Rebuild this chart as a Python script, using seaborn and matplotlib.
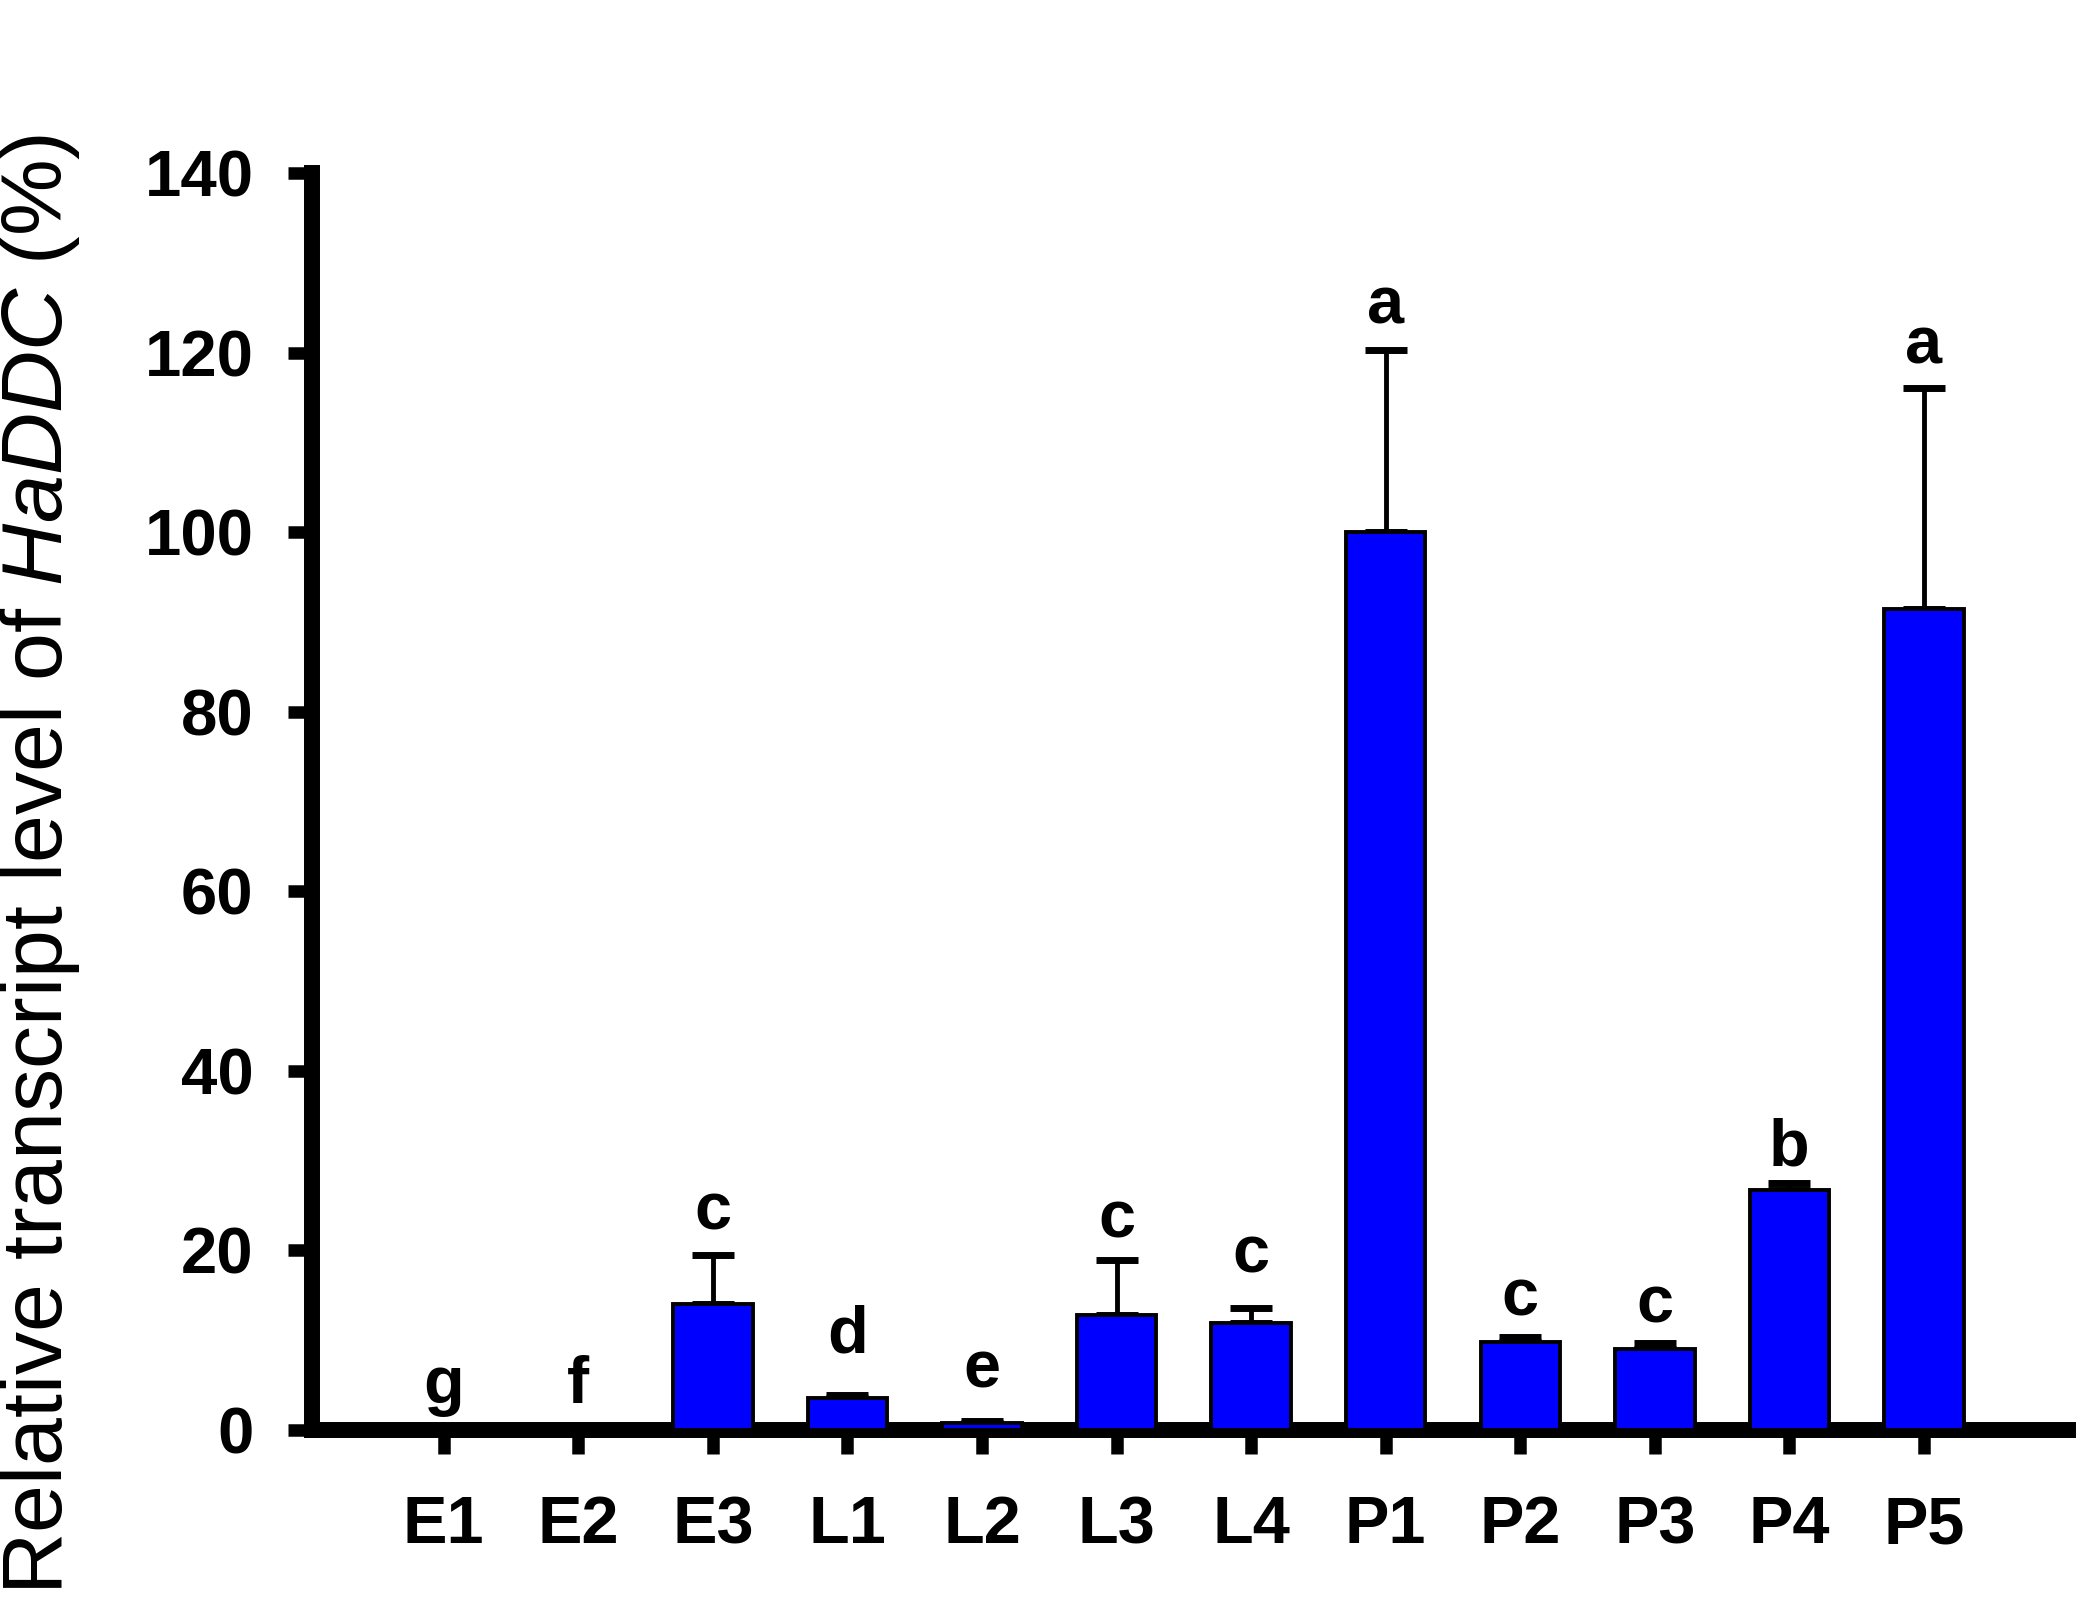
import numpy as np
import pandas as pd
import matplotlib
matplotlib.use('Agg')
import matplotlib.pyplot as plt
import seaborn as sns

# Developmental stages and relative transcript levels
stages = ['E1', 'E2', 'E3', 'L1', 'L2', 'L3', 'L4', 'P1', 'P2', 'P3', 'P4', 'P5']
means = [0.0, 0.0, 14.0, 3.6, 0.8, 12.8, 11.9, 100.0, 9.8, 9.0, 26.7, 91.5]
errors = [0.0, 0.0, 5.5, 0.3, 0.2, 6.1, 1.7, 20.3, 0.6, 0.7, 0.8, 24.6]
letters = ['g', 'f', 'c', 'd', 'e', 'c', 'c', 'a', 'c', 'c', 'b', 'a']
letter_y = [3.0, 3.0, 22.3, 8.6, 4.7, 21.5, 17.6, 123.3, 12.8, 12.0, 29.5, 118.8]
yticks = [0, 20, 40, 60, 80, 100, 120, 140]

sns.set_style('ticks')
plt.rcParams['font.family'] = ['Liberation Sans', 'DejaVu Sans']
plt.rcParams['mathtext.fontset'] = 'custom'
plt.rcParams['mathtext.rm'] = 'Liberation Sans'
plt.rcParams['mathtext.it'] = 'Liberation Sans:italic'
for key in ['text.color', 'axes.labelcolor', 'xtick.color', 'ytick.color',
            'axes.edgecolor']:
    plt.rcParams[key] = 'black'

df = pd.DataFrame({'stage': stages, 'level': means, 'err': errors})

fig = plt.figure(figsize=(20.85, 16.07), dpi=100)
ax = fig.add_axes([0.1496, 0.1101, 0.8422, 0.7822])

sns.barplot(data=df, x='stage', y='level', color='#0000ff', saturation=1,
            edgecolor='black', linewidth=2.8, width=0.59, ax=ax, zorder=3)

# one-sided (upper) error bars
x = np.arange(len(stages))
mask = df['err'] > 0
ax.errorbar(x[mask], df['level'][mask],
            yerr=[np.zeros(mask.sum()), df['err'][mask]],
            fmt='none', ecolor='black', elinewidth=3.5, capsize=15,
            capthick=5, zorder=2)

for xi, lab, ly in zip(x, letters, letter_y):
    ax.text(xi, ly, lab, ha='center', va='baseline',
            fontsize=48, fontweight='bold', color='black')

ax.set_xlim(-0.98, 12.07)
ax.set_ylim(0, 140)
ax.set_yticks(yticks)
ax.set_xlabel('')
ax.set_ylabel(r'Relative transcript level of $\mathit{HaDDC}$ (%)', fontsize=62,
              color='black')
ax.yaxis.set_label_coords(-0.131, 0.45)

sns.despine(ax=ax)
for side in ['left', 'bottom']:
    ax.spines[side].set_linewidth(11.5)
    ax.spines[side].set_color('black')
    ax.spines[side].set_capstyle('projecting')

ax.tick_params(axis='y', length=17, width=9, pad=25, labelsize=47,
               color='black', labelcolor='black')
ax.tick_params(axis='x', length=17, width=9, pad=30, labelsize=48,
               color='black', labelcolor='black')
for lab in ax.get_xticklabels() + ax.get_yticklabels():
    lab.set_fontweight('bold')

fig.savefig('out.png', dpi=100)
